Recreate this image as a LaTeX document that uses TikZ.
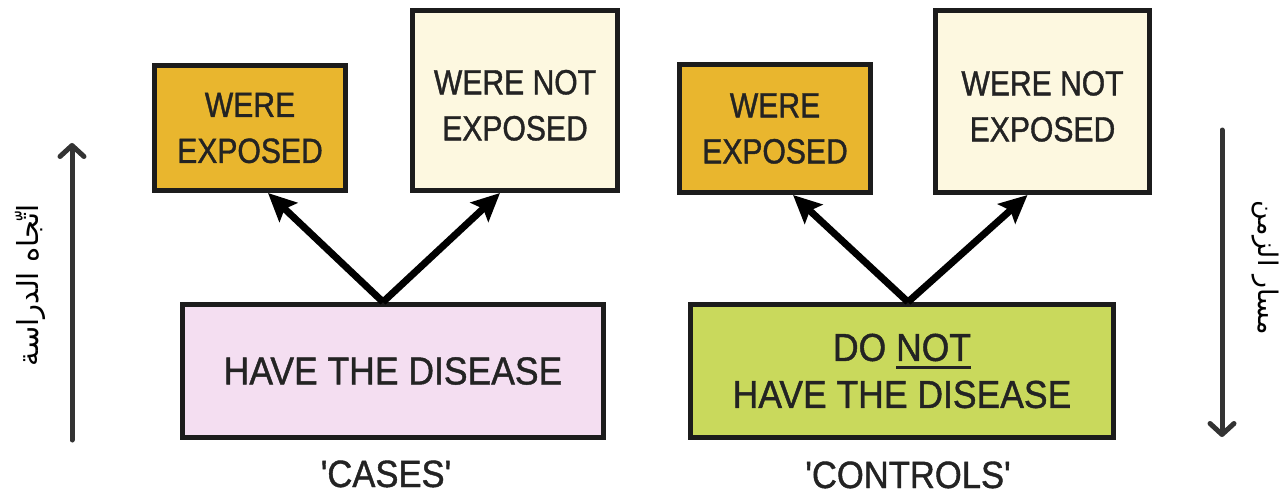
\documentclass[tikz,border=0pt]{standalone}
\usepackage{fontspec}
\setmainfont{Liberation Sans}
\newfontfamily\boxfont{Liberation Sans}[FakeStretch=0.86,FakeBold=1.1]
\newfontfamily\bigfont{Liberation Sans}[FakeStretch=0.91,FakeBold=1.1]
\newfontfamily\arabicfont[Script=Arabic]{DejaVu Sans}
\TeXXeTstate=1
\usetikzlibrary{arrows.meta}
\definecolor{exposedfill}{HTML}{E9B62E}
\definecolor{notexposedfill}{HTML}{FDF8E0}
\definecolor{casefill}{HTML}{F4DEF1}
\definecolor{controlfill}{HTML}{C9D95C}
\definecolor{boxline}{HTML}{1C1C1C}
\definecolor{boxtext}{HTML}{232323}
\definecolor{sideline}{HTML}{333333}
% underline set a little below the baseline
\newcommand\lowrule[1]{\setbox0\hbox{#1}\rlap{\rule[-8pt]{\wd0}{2.6pt}}\box0}
\newcommand\sq{\char"27\relax}
% pushes a two-line label a few points down inside its box
\newcommand\downby{\rule{0pt}{34pt}}
\tikzset{
  box/.style={draw=boxline, line width=5pt, align=center, text=boxtext,
    inner sep=0pt, font=\boxfont\fontsize{35}{46}\selectfont},
  bigbox/.style={box, font=\bigfont\fontsize{39}{47}\selectfont},
  grouplabel/.style={text=boxtext, font=\bigfont\fontsize{38}{40}\selectfont, inner sep=0pt},
  link/.style={line width=7pt, draw=black, -{Stealth[length=28pt,width=26pt,inset=5pt]}},
  sidearrow/.style={line width=5pt, draw=sideline, line cap=round,
    -{Straight Barb[length=11pt,width=24pt,line cap=round,line join=round]}},
  sidetext/.style={text=black, font=\arabicfont\fontsize{27}{30}\selectfont, inner sep=0pt}
}
\begin{document}
\begin{tikzpicture}[x=1pt, y=-1pt]
\useasboundingbox (0,0) rectangle (1287,498);

% cases
\node[box, fill=exposedfill, minimum width=191pt, minimum height=125pt] (ce) at (250,128) {WERE\\EXPOSED};
\node[box, fill=notexposedfill, minimum width=205pt, minimum height=180pt] (cn) at (515,100.5) {\downby WERE NOT\\EXPOSED};
\node[bigbox, fill=casefill, minimum width=421pt, minimum height=133pt] (cd) at (393,371) {HAVE THE DISEASE};
\node[grouplabel, anchor=base] (cl) at (386,487) {\sq CASES\sq};

% controls
\node[box, fill=exposedfill, minimum width=191pt, minimum height=128pt] (ke) at (775,128.5) {WERE\\EXPOSED};
\node[box, fill=notexposedfill, minimum width=214pt, minimum height=182pt] (kn) at (1042.5,101.5) {\downby WERE NOT\\EXPOSED};
\node[bigbox, fill=controlfill, minimum width=423pt, minimum height=133pt] (kd) at (902,371) {DO \lowrule{NOT}\\HAVE THE DISEASE};
\node[grouplabel, anchor=base] (kl) at (908,488) {\sq CONTROLS\sq};

% branching arrows
\coordinate (capex) at ([xshift=-10pt]cd.north);
\coordinate (kapex) at ([xshift=6pt]kd.north);
\draw[link] (capex) -- ([xshift=18pt]ce.south);
\draw[link] (capex) -- ([xshift=-15pt]cn.south);
\draw[link] (kapex) -- ([xshift=18pt]ke.south);
\draw[link] (kapex) -- ([xshift=-15pt]kn.south);

% direction of study (left) and flow of time (right)
\coordinate (lbot) at (72,440);
\coordinate (ltop) at (72,143);
\draw[sidearrow] (lbot) -- (ltop);
\node[sidetext, rotate=90, font=\arabicfont\fontsize{29}{32}\selectfont] (ltext) at (30,285) {\beginR اتّجاه الدراسة\endR};

\coordinate (rtop) at (1222,130);
\coordinate (rbot) at (1222,437);
\draw[sidearrow] (rtop) -- (rbot);
\node[sidetext, rotate=-90] (rtext) at (1265,268) {\beginR مسار الزمن\endR};
\end{tikzpicture}
\end{document}
